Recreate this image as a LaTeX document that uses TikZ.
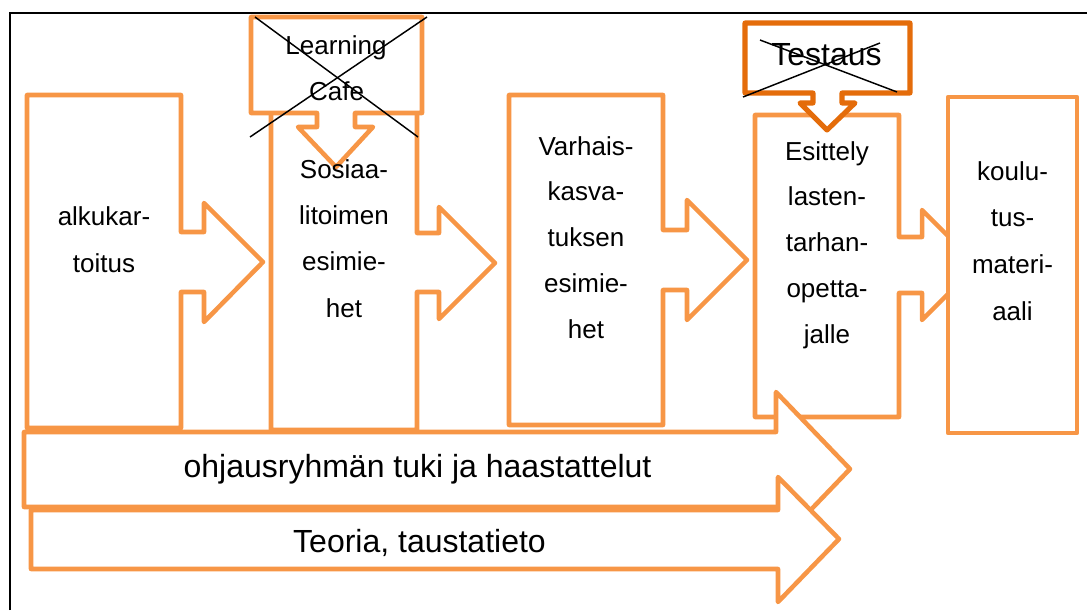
\documentclass[tikz,border=0pt]{standalone}
\usepackage{fontspec}
\setmainfont{Liberation Sans}
\definecolor{orL}{HTML}{F79646}
\definecolor{orD}{HTML}{E46C0A}
\begin{document}
\begin{tikzpicture}[x=0.75pt,y=-0.75pt,
  box/.style={draw=orL, line width=3.4pt, fill=white, line join=round},
  callout/.style={draw=orD, line width=3.8pt, fill=white, line join=round},
  cross/.style={black, line width=1.1pt},
  lbl/.style={font=\fontsize{19.5pt}{23pt}\selectfont, inner sep=0pt, anchor=base},
  big/.style={font=\fontsize{24pt}{28pt}\selectfont, inner sep=0pt, anchor=base}]
\useasboundingbox (0,0) rectangle (1087,610);
\draw[black, line width=1.3pt] (10,610) -- (10,13) -- (1087,13);
% step boxes with arrows
\draw[box] (27,95) -- (181,95) -- (181,232) -- (204,232) -- (204,203) -- (263,262) -- (204,322) -- (204,292) -- (181,292) -- (181,428) -- (27,428) -- cycle;
\draw[box] (271,95) -- (417,95) -- (417,233) -- (439,233) -- (439,207) -- (495,263) -- (439,319) -- (439,292) -- (417,292) -- (417,430) -- (271,430) -- cycle;
\draw[box] (509,95) -- (663,95) -- (663,230) -- (687,230) -- (687,200) -- (747,260) -- (687,320) -- (687,290) -- (663,290) -- (663,425) -- (509,425) -- cycle;
\draw[box] (755,115) -- (899,115) -- (899,237) -- (922,237) -- (922,210) -- (977,265) -- (922,320) -- (922,293) -- (899,293) -- (899,417) -- (755,417) -- cycle;
\draw[box] (948,97) rectangle (1077,433);
% callouts
\draw[box] (251,17) -- (422,17) -- (422,113) -- (355,113) -- (355,127) -- (373,127) -- (336,167) -- (298,127) -- (317,127) -- (317,113) -- (251,113) -- cycle;
\draw[callout] (745,23) -- (910,23) -- (910,93) -- (842,93) -- (842,103) -- (855,103) -- (827,130) -- (800,103) -- (813,103) -- (813,93) -- (745,93) -- cycle;
% labels in boxes
\foreach \t [count=\i from 0] in {alkukar-,toitus}
  \node[lbl] (a\i) at (104,{225+47*\i}) {\t};
\foreach \t [count=\i from 0] in {Sosiaa-,litoimen,esimie-,het}
  \node[lbl] (s\i) at (344,{178+46.4*\i}) {\t};
\foreach \t [count=\i from 0] in {Varhais-,kasva-,tuksen,esimie-,het}
  \node[lbl] (v\i) at (586,{155+45.8*\i}) {\t};
\foreach \t [count=\i from 0] in {Esittely,lasten-,tarhan-,opetta-,jalle}
  \node[lbl] (e\i) at (827,{160+45.8*\i}) {\t};
\foreach \t [count=\i from 0] in {koulu-,tus-,materi-,aali}
  \node[lbl] (k\i) at (1012.5,{180+46.7*\i}) {\t};
\node[lbl] (lc1) at (336,55) {Learning};
\node[lbl] (lc2) at (336.5,100) {Cafe};
\node[big] (te) at (826.5,65) {Testaus};
% crossing lines
\draw[cross] (255,17) -- (418,137);
\draw[cross] (427,17) -- (250,137);
\draw[cross] (760,40) -- (897,92);
\draw[cross] (743,97) -- (880,43);
% long arrows
\draw[box] (24,432) -- (776,432) -- (776,392) -- (850,469) -- (776,546) -- (776,507) -- (24,507) -- cycle;
\node[big] (oh) at (417.5,477) {ohjausryhmän tuki ja haastattelut};
\draw[box] (31,510) -- (778,510) -- (778,477) -- (839,539) -- (778,602) -- (778,569) -- (31,569) -- cycle;
\node[big] (th) at (419.5,552) {Teoria, taustatieto};
\end{tikzpicture}
\end{document}
